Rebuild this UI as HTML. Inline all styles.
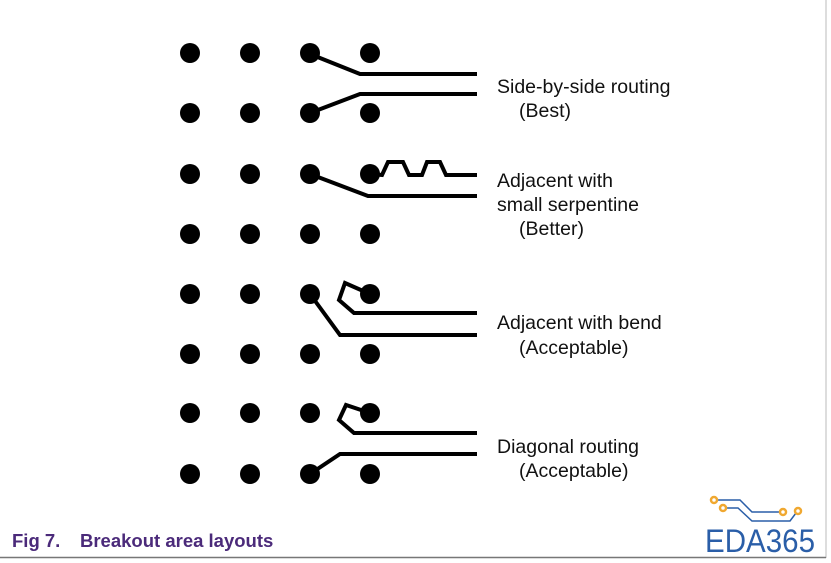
<!DOCTYPE html>
<html><head><style>
body{margin:0;background:#fff;}
svg{display:block;}
</style></head><body>
<svg width="831" height="563" viewBox="0 0 831 563" xmlns="http://www.w3.org/2000/svg">
<rect width="831" height="563" fill="#fff"/>
<line x1="826" y1="0" x2="826" y2="558" stroke="#bbb" stroke-width="1"/>
<line x1="0" y1="557.5" x2="826" y2="557.5" stroke="#777" stroke-width="1.5"/>
<g fill="#000">
<g id="r">
<circle cx="190" cy="53" r="10"/><circle cx="250" cy="53" r="10"/><circle cx="310" cy="53" r="10"/><circle cx="370" cy="53" r="10"/>
</g>
<use href="#r" y="60"/><use href="#r" y="121"/><use href="#r" y="181"/>
<use href="#r" y="241"/><use href="#r" y="301"/><use href="#r" y="360"/><use href="#r" y="421"/>
</g>
<g fill="none" stroke="#000" stroke-width="4" stroke-linejoin="miter">
<polyline points="310,54 360,74 477,74"/>
<polyline points="310,113 360,94 477,94"/>
<polyline points="370,174 382,175 388,162 403,162 409,175 422,175 427,162 440,162 446,175 477,175"/>
<polyline points="310,174 368,196 477,196"/>
<polyline points="310,294 340,335 477,335"/>
<polyline points="370,294 345,283 339,300 354,313 477,313"/>
<polyline points="370,413 346,405 339,420 354,433 477,433"/>
<polyline points="310,474 340,454 477,454"/>
</g>
<g font-family="Liberation Sans, sans-serif" font-size="19.5" fill="#111">
<text x="497" y="93">Side-by-side routing</text>
<text x="519" y="117">(Best)</text>
<text x="497" y="187">Adjacent with</text>
<text x="497" y="211">small serpentine</text>
<text x="519" y="235">(Better)</text>
<text x="497" y="329">Adjacent with bend</text>
<text x="519" y="354">(Acceptable)</text>
<text x="497" y="453">Diagonal routing</text>
<text x="519" y="477">(Acceptable)</text>
</g>
<text x="12" y="547" font-family="Liberation Sans, sans-serif" font-size="18.5" font-weight="bold" fill="#4b2a7a">Fig 7.<tspan x="80">Breakout area layouts</tspan></text>
<g fill="none" stroke="#2a5ea8" stroke-width="1.5">
<polyline points="714,500 740,500 752,512 785,512"/>
<polyline points="723,508 738,508 752,521 790,521 796,513"/>
</g>
<g fill="#fff" stroke="#f0a830" stroke-width="2.5">
<circle cx="714" cy="500" r="3"/><circle cx="723" cy="508" r="3"/>
<circle cx="783" cy="512" r="3"/><circle cx="798" cy="511" r="3"/>
</g>
<text x="705" y="552" font-family="Liberation Sans, sans-serif" font-size="32" fill="#2a5ea8" textLength="110" lengthAdjust="spacingAndGlyphs">EDA365</text>
</svg>
</body></html>
